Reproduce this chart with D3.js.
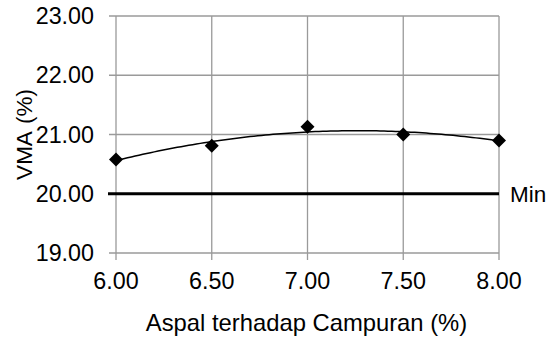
<!DOCTYPE html>
<html><head><meta charset="utf-8">
<script src="https://cdn.jsdelivr.net/npm/d3@7"></script>
<style>
html,body{margin:0;padding:0;background:#fff;}
text{font-family:"Liberation Sans",Arial,sans-serif;fill:#000;}
</style></head>
<body>
<svg id="c" width="547" height="341"></svg>
<script>
const asphalt = [6.0, 6.5, 7.0, 7.5, 8.0];
const vma = [20.58, 20.81, 21.13, 21.00, 20.90];
const minValue = 20.0;
const minLabel = "Min";
const xTicks = [6.0, 6.5, 7.0, 7.5, 8.0];
const yTicks = [19, 20, 21, 22, 23];
const xTitle = "Aspal terhadap Campuran (%)";
const yTitle = "VMA (%)";

const W = 547, H = 341;
const m = {left:116, right:48, top:16, bottom:88};
const x = d3.scaleLinear().domain([6, 8]).range([m.left, W - m.right]);
const y = d3.scaleLinear().domain([19, 23]).range([H - m.bottom, m.top]);
const svg = d3.select("#c");
const grid = "#9a9a9a";
const fs = 23.3;

// gridlines
svg.append("g").selectAll("line").data(yTicks).join("line")
  .attr("x1", m.left - 7).attr("x2", x(8))
  .attr("y1", d => y(d)).attr("y2", d => y(d))
  .attr("stroke", grid).attr("stroke-width", 1.3);
svg.append("g").selectAll("line").data(xTicks).join("line")
  .attr("x1", d => x(d)).attr("x2", d => x(d))
  .attr("y1", y(23)).attr("y2", y(19) + 7)
  .attr("stroke", grid).attr("stroke-width", 1.3);

// tick labels
svg.append("g").selectAll("text").data(yTicks).join("text")
  .attr("x", m.left - 22).attr("y", d => y(d)).attr("dy", "0.35em")
  .attr("text-anchor", "end").attr("font-size", fs)
  .text(d => d3.format(".2f")(d));
svg.append("g").selectAll("text").data(xTicks).join("text")
  .attr("x", d => x(d)).attr("y", 289)
  .attr("text-anchor", "middle").attr("font-size", fs)
  .text(d => d3.format(".2f")(d));

// min line
svg.append("line")
  .attr("x1", m.left - 8).attr("x2", x(8))
  .attr("y1", y(minValue)).attr("y2", y(minValue))
  .attr("stroke", "#000").attr("stroke-width", 3);
svg.append("text").attr("x", x(8) + 11).attr("y", y(minValue)).attr("dy", "0.35em")
  .attr("font-size", 22.5).text(minLabel);

// polynomial (order 2) trendline via least squares
function polyfit2(xs, ys) {
  const n = xs.length;
  let s = [0,0,0,0,0], t = [0,0,0];
  for (let i = 0; i < n; i++) {
    for (let k = 0; k < 5; k++) s[k] += Math.pow(xs[i], k);
    for (let k = 0; k < 3; k++) t[k] += ys[i] * Math.pow(xs[i], k);
  }
  const A = [[s[0],s[1],s[2],t[0]],[s[1],s[2],s[3],t[1]],[s[2],s[3],s[4],t[2]]];
  for (let i = 0; i < 3; i++) {
    for (let j = i + 1; j < 3; j++) {
      const f = A[j][i] / A[i][i];
      for (let k = i; k < 4; k++) A[j][k] -= f * A[i][k];
    }
  }
  const c = [0,0,0];
  for (let i = 2; i >= 0; i--) {
    let v = A[i][3];
    for (let k = i + 1; k < 3; k++) v -= A[i][k] * c[k];
    c[i] = v / A[i][i];
  }
  return c;
}
const c = polyfit2(asphalt, vma);
const trend = d3.range(6, 8.0001, 0.02).map(v => [v, c[0] + c[1]*v + c[2]*v*v]);
svg.append("path").datum(trend)
  .attr("d", d3.line().x(d => x(d[0])).y(d => y(d[1])))
  .attr("fill", "none").attr("stroke", "#000").attr("stroke-width", 1.5);

// markers
svg.append("g").selectAll("path").data(asphalt.map((v, i) => [v, vma[i]])).join("path")
  .attr("transform", d => `translate(${x(d[0])},${y(d[1])})`)
  .attr("d", "M0,-7L7,0L0,7L-7,0Z").attr("fill", "#000");

// titles
svg.append("text").attr("x", (x(6) + x(8)) / 2 - 1).attr("y", 331)
  .attr("text-anchor", "middle").attr("font-size", 23.8).text(xTitle);
svg.append("text")
  .attr("transform", `translate(32,${(y(19) + y(23)) / 2}) rotate(-90)`)
  .attr("text-anchor", "middle").attr("font-size", 22.5)
  .style("word-spacing", "2px").text(yTitle);
</script>
</body></html>
